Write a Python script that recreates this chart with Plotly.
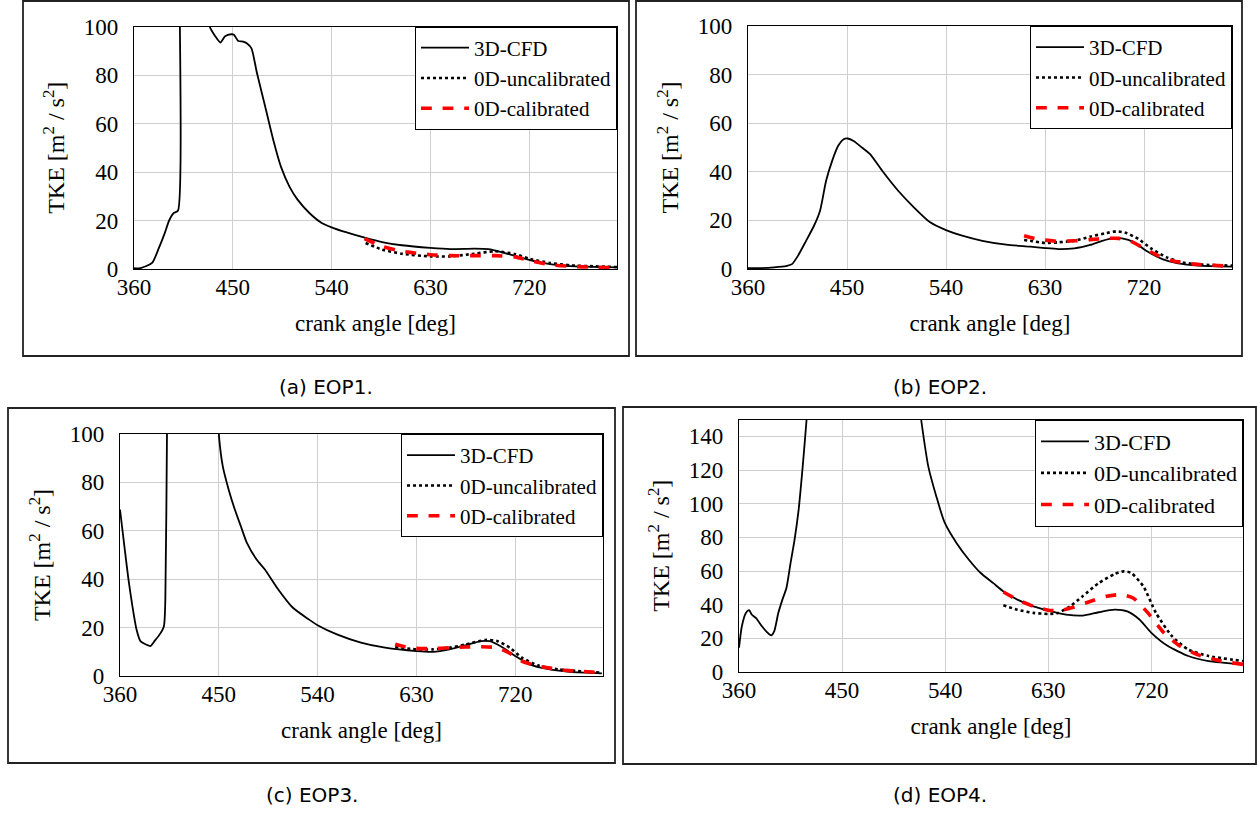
import plotly.graph_objects as go

W, H = 1257, 814

# ---------------- data ----------------
x_ticks = [360, 450, 540, 630, 720]
y_ticks_abc = [0, 20, 40, 60, 80, 100]
y_ticks_d = [0, 20, 40, 60, 80, 100, 120, 140]
series_names = ["3D-CFD", "0D-uncalibrated", "0D-calibrated"]
captions = ["(a) EOP1.", "(b) EOP2.", "(c) EOP3.", "(d) EOP4."]

# EOP1
a_cfd_x = [360, 366, 376.5, 382.7, 388, 392, 396, 400, 401, 415, 428, 429, 434, 438.7, 443, 448.5, 451, 455, 459.5, 463, 467, 472, 479.5, 487, 494, 501.6, 509, 520, 531, 540, 553, 571, 586, 604, 630, 648, 670, 682.7, 695.5, 714, 732, 750, 768.6, 800]
a_cfd_y = [0.3, 0.4, 2.5, 8.7, 14.8, 20, 23, 24, 200, 250, 110, 100, 96, 93.4, 96, 96.8, 96.6, 94, 93.8, 93, 91, 80.8, 67, 53, 42, 34, 28.6, 23, 19, 17.2, 15.2, 12.8, 11.1, 9.8, 8.7, 8.2, 8.4, 8.2, 6.9, 4.5, 2.5, 1.4, 1.0, 0.7]
a_unc_x = [571, 586, 604, 630, 648, 670, 688.5, 707, 721, 739, 757.8, 780, 800]
a_unc_y = [10.7, 8.0, 6.3, 5.2, 5.2, 6.3, 7.3, 6.2, 4.1, 2.5, 1.5, 1.1, 0.8]
a_cal_x = [570, 586, 604, 630, 648, 670, 688.5, 707, 721, 739, 758, 780, 800]
a_cal_y = [12.5, 9.3, 7.3, 5.9, 5.5, 5.5, 5.5, 5.0, 3.4, 1.8, 1.1, 0.7, 0.5]

# EOP2
b_cfd_x = [360, 372.7, 383.7, 394.6, 400, 405.5, 412.8, 420, 425.5, 431, 436.5, 442, 447, 450.7, 456, 463.6, 471, 482, 496.5, 511, 525.6, 540, 554.7, 573, 594.8, 616.7, 630, 642, 656.7, 671, 682, 693, 700, 711, 722, 736.7, 751, 769.5, 800]
b_cfd_y = [0.3, 0.4, 0.7, 1.2, 2.0, 5.5, 11.6, 17.8, 24, 36.3, 44.5, 50.7, 53.4, 53.7, 52.7, 50, 47.3, 40.4, 32.2, 25.3, 19.2, 16, 13.7, 11.6, 10, 9.2, 8.6, 8.2, 8.5, 9.9, 11.6, 12.7, 12.6, 11, 7.5, 4.1, 2.3, 1.4, 1.0]
b_unc_x = [611, 616.7, 630, 642, 656.7, 671, 686, 695, 704, 715, 726, 740.6, 755, 773, 800]
b_unc_y = [11.9, 11.6, 10.7, 11.0, 11.6, 13.3, 14.8, 15.5, 14.8, 12.3, 8.6, 4.8, 2.7, 1.8, 1.4]
b_cal_x = [611, 620, 630, 642, 656.7, 671, 686, 697, 708, 718.5, 733, 747.6, 766, 800]
b_cal_y = [13.7, 12.6, 11.9, 11.4, 11.6, 12.1, 12.6, 12.6, 11.4, 8.9, 5.5, 3.2, 2.0, 1.1]

# EOP3
c_cfd_x = [360, 364, 367.7, 371.3, 375, 378.6, 382.3, 387.8, 391.4, 396.2, 400, 401.3, 402.8, 405, 440, 449, 450, 453.6, 459, 464.6, 470, 475.6, 484.6, 492, 503, 517.5, 532, 540, 557.6, 579.5, 601.5, 630, 645, 660, 674.6, 689, 696.6, 707.5, 720, 733, 748, 770, 799]
c_cfd_y = [68.8, 53.6, 39.9, 28.9, 19.3, 14.4, 13.3, 12.4, 14.4, 17.2, 20.6, 31.6, 100, 200, 220, 110, 100, 86.7, 77, 68.8, 62, 55, 48, 44, 36.5, 28.2, 23.4, 21, 17.2, 13.8, 11.7, 10.3, 10, 11, 12.7, 14.4, 14.4, 12.1, 8.3, 4.8, 3.0, 1.7, 1.1]
c_unc_x = [610.7, 630, 645, 660, 674.6, 693, 704, 715, 726, 740.6, 759, 799]
c_unc_y = [12.0, 11.0, 11.0, 11.7, 13.0, 14.9, 14.4, 11.7, 7.6, 4.4, 2.8, 1.4]
c_cal_x = [610.7, 620, 630, 645, 660, 674.6, 689, 704, 715, 726, 740.6, 762.5, 799]
c_cal_y = [13.1, 12.0, 11.4, 11.3, 11.7, 12.0, 12.1, 11.7, 9.4, 6.2, 4.1, 2.5, 1.4]

# EOP4
d_cfd_x = [360, 362.5, 366, 368.8, 371.3, 374.9, 380, 384.4, 388, 390.8, 394.3, 397.9, 401.4, 405, 408.5, 412, 415.6, 419, 430, 470, 510, 519, 525.3, 532.4, 539.4, 550, 560.7, 571, 582, 590.8, 603, 617, 630, 645.6, 660, 674, 688, 699, 709.6, 720, 734.5, 752.3, 770, 800]
d_cfd_y = [14.4, 27.2, 35, 36.7, 34, 32, 27.2, 23.7, 21.7, 24.3, 35, 43, 49.9, 64.7, 78.5, 96, 122, 150, 250, 300, 200, 150, 122, 104, 89, 76.5, 66.7, 58.8, 52.8, 47.9, 43, 39, 36.5, 34.1, 33.5, 35.5, 37, 36, 31.2, 23.3, 15.4, 9.5, 6.5, 4.5]
d_unc_x = [590.8, 603, 617, 630, 638.6, 649, 660, 674, 688, 695.5, 702.5, 713, 724, 738, 752, 770, 800]
d_unc_y = [39.6, 37, 35.1, 34.5, 35.1, 39, 45, 52.8, 58.2, 59.8, 58.8, 50.9, 35.1, 21.3, 13.4, 9.5, 6.5]
d_cal_x = [590.8, 603, 617, 630, 642, 652.7, 667, 681, 694, 704, 717, 731, 745, 763.5, 781, 800]
d_cal_y = [47.5, 43, 39, 36.7, 36.7, 38.6, 42, 45, 46, 44, 35.1, 23.3, 15.4, 9.5, 6.5, 4.5]

# ---------------- layout geometry (pixels) ----------------
panels = [
    dict(data=[(a_cfd_x, a_cfd_y), (a_unc_x, a_unc_y), (a_cal_x, a_cal_y)],
         plot=(134, 617, 26.5, 269), frame=(23, 629, 1, 356), yr=100, yt=y_ticks_abc,
         cap=(326, 387), lfont=21),
    dict(data=[(b_cfd_x, b_cfd_y), (b_unc_x, b_unc_y), (b_cal_x, b_cal_y)],
         plot=(748, 1232, 26, 269), frame=(636, 1242, 1, 356), yr=100, yt=y_ticks_abc,
         cap=(940, 387), lfont=21),
    dict(data=[(c_cfd_x, c_cfd_y), (c_unc_x, c_unc_y), (c_cal_x, c_cal_y)],
         plot=(120, 603, 434, 676), frame=(8, 615, 408, 763), yr=100, yt=y_ticks_abc,
         cap=(312, 795), lfont=21),
    dict(data=[(d_cfd_x, d_cfd_y), (d_unc_x, d_unc_y), (d_cal_x, d_cal_y)],
         plot=(739, 1243, 419.5, 672), frame=(623, 1256, 407, 764), yr=150, yt=y_ticks_d,
         cap=(940, 795), lfont=22),
]

serif = "Liberation Serif"
tickserif = "Times New Roman, Liberation Serif, serif"
styles = [
    dict(color="black", width=1.8, dash="solid"),
    dict(color="black", width=2.6, dash="dot"),
    dict(color="#ff0000", width=3.6, dash="dash"),
]

fig = go.Figure()
layout = dict(
    width=W, height=H, autosize=False,
    margin=dict(l=0, r=0, t=0, b=0, pad=0, autoexpand=False),
    paper_bgcolor="white", plot_bgcolor="white",
    font=dict(family=serif, size=22, color="black"),
    shapes=[], annotations=[],
)

for i, p in enumerate(panels):
    n = "" if i == 0 else str(i + 1)
    xa, ya = "x" + n, "y" + n
    lg = "legend" + n
    x0, x1, y0, y1 = p["plot"]
    for j, (xs, ys) in enumerate(p["data"]):
        fig.add_trace(go.Scatter(
            x=xs, y=ys, mode="lines", name=series_names[j],
            line=dict(shape="spline", smoothing=0.6, **styles[j]),
            xaxis=xa, yaxis=ya, legend=lg, showlegend=True,
        ))
    layout["xaxis" + n] = dict(
        domain=[x0 / W, x1 / W], anchor=ya, range=[360, 800], automargin=False,
        tickvals=x_ticks, ticktext=[str(v) for v in x_ticks],
        ticks="", ticklen=0, ticklabelstandoff=-3,
        showgrid=True, gridcolor="#cfcfcf", gridwidth=1, zeroline=False,
        showline=True, linecolor="black", linewidth=1.3, mirror=True,
        tickfont=dict(family=tickserif, size=23, color="black"),
        title=dict(text="crank angle [deg]", font=dict(family=serif, size=23), standoff=16),
    )
    layout["yaxis" + n] = dict(
        domain=[1 - y1 / H, 1 - y0 / H], anchor=xa, range=[0, p["yr"]], automargin=False,
        tickvals=p["yt"], ticktext=[str(v) for v in p["yt"]],
        ticks="", ticklabelstandoff=10,
        showgrid=True, gridcolor="#cfcfcf", gridwidth=1, zeroline=False,
        showline=True, linecolor="black", linewidth=1.3, mirror=True,
        tickfont=dict(family=tickserif, size=23, color="black"),
        title=dict(text="TKE [m<sup>2</sup> / s<sup>2</sup>]", font=dict(family=serif, size=24), standoff=12),
    )
    layout[lg] = dict(
        x=x1 / W, xanchor="right", y=1 - y0 / H, yanchor="top",
        bgcolor="white", bordercolor="black", borderwidth=1,
        font=dict(family=serif, size=p["lfont"], color="black"),
        tracegroupgap=0, itemwidth=48,
    )
    fx0, fx1, fy0, fy1 = p["frame"]
    layout["shapes"].append(dict(
        type="rect", xref="paper", yref="paper",
        x0=fx0 / W, x1=fx1 / W, y0=1 - fy1 / H, y1=1 - fy0 / H,
        line=dict(color="#222222", width=1.8), fillcolor="rgba(0,0,0,0)",
    ))
    cx, cy = p["cap"]
    layout["annotations"].append(dict(
        text=captions[i], xref="paper", yref="paper", x=cx / W, y=1 - cy / H,
        xanchor="center", yanchor="middle", showarrow=False,
        font=dict(family="DejaVu Sans", size=20, color="black"),
    ))

fig.update_layout(**layout)
fig.write_html("out.html")
